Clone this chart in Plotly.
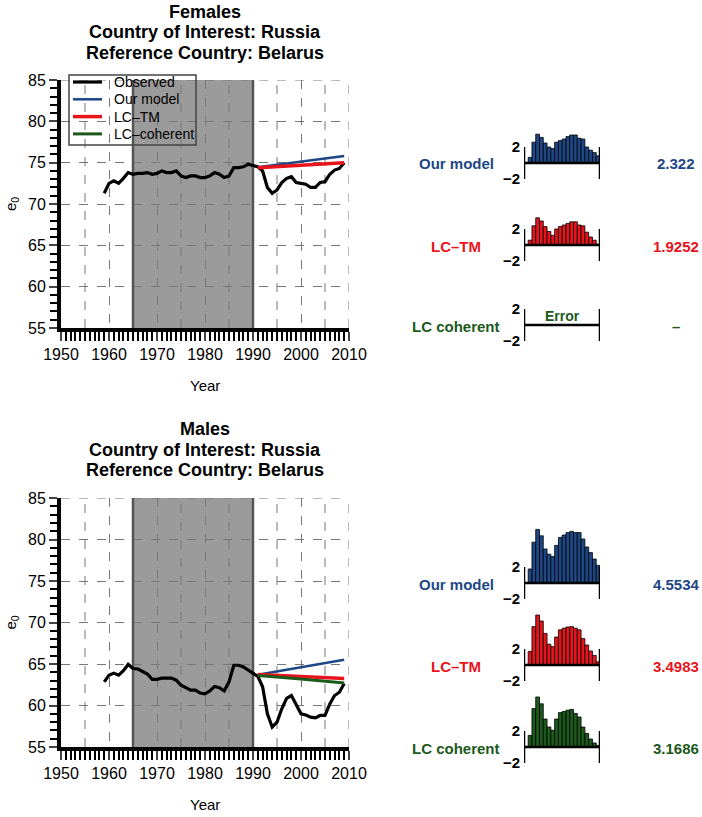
import plotly.graph_objects as go

W, H = 702, 817

years = list(range(1959, 2010))
fem_obs = [71.3, 72.5, 72.8, 72.5, 73.1, 73.8, 73.6, 73.7, 73.7, 73.8,
           73.6, 73.7, 74.0, 73.8, 73.8, 74.0, 73.4, 73.2, 73.4, 73.4,
           73.2, 73.2, 73.4, 73.8, 73.6, 73.2, 73.4, 74.4, 74.4, 74.5,
           74.8, 74.6, 74.5, 74.0, 72.0, 71.3, 71.7, 72.6, 73.1, 73.3,
           72.6, 72.5, 72.4, 72.0, 72.0, 72.6, 72.7, 73.6, 74.1, 74.3, 75.0]
male_obs = [62.85, 63.65, 63.9, 63.65, 64.2, 64.95, 64.45, 64.4, 64.1, 63.8,
            63.15, 63.15, 63.3, 63.3, 63.3, 63.05, 62.45, 62.15, 61.85, 61.85,
            61.5, 61.4, 61.75, 62.3, 62.15, 61.75, 62.85, 64.85, 64.85, 64.65,
            64.25, 63.85, 63.5, 62.25, 59.0, 57.4, 58.0, 59.6, 60.85, 61.2,
            60.0, 59.0, 58.85, 58.6, 58.5, 58.8, 58.8, 60.2, 61.2, 61.6, 62.65]

fc_years = [1991, 2000, 2009]
fem_ours = [74.45, 75.1, 75.8]
fem_lctm = [74.4, 74.7, 75.0]
male_ours = [63.7, 64.6, 65.5]
male_lctm = [63.75, 63.5, 63.25]
male_lccoh = [63.6, 63.2, 62.7]

bar_years = list(range(1991, 2010))
fem_bars_ours = [0.7, 2.6, 3.6, 3.2, 2.5, 2.0, 1.8, 2.6, 2.8, 3.0,
                 3.3, 3.5, 3.5, 3.1, 3.0, 2.0, 1.6, 1.3, 0.9]
fem_bars_lctm = [0.6, 2.4, 3.4, 3.0, 2.3, 1.7, 1.2, 2.0, 2.3, 2.5,
                 2.7, 2.9, 2.9, 2.5, 2.4, 1.6, 1.0, 0.6, 0.1]
male_bars_ours = [1.75, 5.1, 6.7, 5.9, 4.25, 3.6, 3.3, 4.7, 5.7, 6.0,
                  6.3, 6.45, 6.3, 6.3, 5.5, 4.5, 3.8, 3.0, 2.2]
male_bars_lctm = [1.7, 4.8, 6.25, 5.5, 3.95, 2.6, 2.3, 3.5, 4.4, 4.6,
                  4.75, 4.8, 4.6, 4.4, 3.3, 2.5, 1.75, 1.2, 0.4]
male_bars_lccoh = [1.45, 4.8, 6.25, 5.4, 3.5, 2.5, 2.1, 3.5, 4.3, 4.45,
                   4.6, 4.7, 4.2, 3.75, 2.5, 1.7, 1.0, 0.5, 0.2]

fem_scores = ["2.322", "1.9252", "–"]
male_scores = ["4.5534", "3.4983", "3.1686"]
row_names = ["Our model", "LC–TM", "LC coherent"]
legend_names = ["Observed", "Our model", "LC–TM", "LC–coherent"]

BLUE = "#1d4785"
RED = "#e8141c"
GREEN = "#1b5a1b"
FONT = "Liberation Sans, Arial, Helvetica, sans-serif"


def px(x):
    return x / W


def py(y):
    return 1 - y / H


def note(text, x, y, size, color="black", angle=0):
    return dict(text=text, xref="paper", yref="paper", x=px(x), y=py(y),
                xanchor="center", yanchor="middle", showarrow=False,
                textangle=angle, font=dict(size=size, color=color))


def dashed(xa, ya, x0, x1, y0, y1):
    return dict(type="line", xref=xa, yref=ya, x0=x0, x1=x1, y0=y0, y1=y1,
                layer="between", line=dict(color="#777", width=1, dash="dash"))


fig = go.Figure()
layout = dict(width=W, height=H, margin=dict(l=0, r=0, t=0, b=0),
              plot_bgcolor="white", paper_bgcolor="white",
              font=dict(family=FONT, color="black"), showlegend=False,
              shapes=[], annotations=[])

# main panels: (top px, bottom px, title top px, observed, forecasts)
panels = [
    (80, 328, 12, "Females", fem_obs,
     [("Our model", fem_ours, BLUE, 2.5), ("LC–TM", fem_lctm, RED, 3.5)]),
    (498, 747, 429, "Males", male_obs,
     [("Our model", male_ours, BLUE, 2.5), ("LC–TM", male_lctm, RED, 3.5),
      ("LC–coherent", male_lccoh, GREEN, 3)]),
]

for i, (top, bot, ttop, sex, obs, fcs) in enumerate(panels):
    n = i + 1
    xa, ya = ("x", "y") if n == 1 else ("x%d" % n, "y%d" % n)
    xk, yk = ("xaxis", "yaxis") if n == 1 else ("xaxis%d" % n, "yaxis%d" % n)
    layout[xk] = dict(domain=[px(61), px(349)], range=[1950, 2010], anchor=ya,
                      tickvals=list(range(1950, 2011, 10)),
                      ticks="outside", ticklen=9, tickwidth=2.2, showline=True,
                      linewidth=4, linecolor="black", showgrid=True,
                      gridcolor="#777", griddash="dash", gridwidth=1,
                      tickfont=dict(size=16), zeroline=False, automargin=False,
                      minor=dict(dtick=1, ticks="outside", ticklen=9, tickwidth=1.5,
                                 tickcolor="black", showgrid=False))
    layout[yk] = dict(domain=[py(bot), py(top)], range=[55, 85], anchor=xa,
                      tickvals=list(range(55, 86, 5)), ticks="outside", ticklen=8,
                      tickwidth=2.2, showline=True, linewidth=4, linecolor="black",
                      showgrid=True, gridcolor="#777", griddash="dash", gridwidth=1,
                      tickfont=dict(size=16), zeroline=False, automargin=False,
                      minor=dict(dtick=1, ticks="outside", ticklen=7, tickwidth=1.5,
                                 tickcolor="black", showgrid=False))
    layout["shapes"].append(dict(type="rect", xref=xa, yref=ya, x0=1965, x1=1990,
                                 y0=55, y1=85, fillcolor="#9b9b9b",
                                 line=dict(width=0), layer="below"))
    # in-between 5-year grid lines plus the top and right edges
    for xg in (1955, 1975, 1985, 1995, 2005, 2010):
        layout["shapes"].append(dashed(xa, ya, xg, xg, 55, 85))
    layout["shapes"].append(dashed(xa, ya, 1950, 2010, 85, 85))
    for xe in (1965, 1990):
        layout["shapes"].append(dict(type="line", xref=xa, yref=ya, x0=xe, x1=xe,
                                     y0=55, y1=85, layer="between",
                                     line=dict(color="#555", width=2.5)))
    fig.add_trace(go.Scatter(x=years, y=obs, mode="lines", name="Observed",
                             line=dict(color="black", width=3.2), xaxis=xa, yaxis=ya))
    for name, vals, col, lw in fcs:
        fig.add_trace(go.Scatter(x=fc_years, y=vals, mode="lines", name=name,
                                 line=dict(color=col, width=lw), xaxis=xa, yaxis=ya))
    for k, line in enumerate([sex, "Country of Interest: Russia", "Reference Country: Belarus"]):
        layout["annotations"].append(note("<b>%s</b>" % line, 205, ttop + 20.5 * k, 18))
    layout["annotations"].append(note("Year", 205, bot + 57, 15))
    layout["annotations"].append(note("e<sub>0</sub>", 11, (top + bot) / 2, 15, angle=-90))

# legend drawn in the first panel
layout["shapes"].append(dict(type="rect", xref="paper", yref="paper",
                             x0=px(69), x1=px(196), y0=py(145), y1=py(75),
                             line=dict(color="#444", width=1.5)))
for k, (name, col, lw) in enumerate(zip(legend_names, ["black", BLUE, RED, GREEN],
                                        [3.2, 2.5, 3.5, 3])):
    yy = 82 + 17.3 * k
    layout["shapes"].append(dict(type="line", xref="paper", yref="paper",
                                 x0=px(73), x1=px(102), y0=py(yy), y1=py(yy),
                                 line=dict(color=col, width=lw)))
    layout["annotations"].append(dict(text=name, xref="paper", yref="paper",
                                      x=px(112), y=py(yy), xanchor="left",
                                      yanchor="middle", showarrow=False,
                                      font=dict(size=14)))

# mini error bar charts
rows = [
    (163, fem_bars_ours, BLUE, fem_scores[0], row_names[0]),
    (245, fem_bars_lctm, RED, fem_scores[1], row_names[1]),
    (325, None, GREEN, fem_scores[2], row_names[2]),
    (583, male_bars_ours, BLUE, male_scores[0], row_names[0]),
    (665, male_bars_lctm, RED, male_scores[1], row_names[1]),
    (747, male_bars_lccoh, GREEN, male_scores[2], row_names[2]),
]
for j, (base, bars, col, score, label) in enumerate(rows):
    n = j + 3
    xa, ya = "x%d" % n, "y%d" % n
    # 8 px per unit, range -2 .. 8
    layout["xaxis%d" % n] = dict(domain=[px(524), px(600)], range=[1989.4, 2009.5],
                                 anchor=ya, visible=False, automargin=False)
    layout["yaxis%d" % n] = dict(domain=[py(base + 16), py(base - 64)], range=[-2, 8],
                                 anchor=xa, tickvals=[-2, 2],
                                 ticktext=["<b>−2</b>", "<b>2</b>"], ticks="",
                                 showline=False, showgrid=False, zeroline=False,
                                 tickfont=dict(size=15), ticklabelstandoff=3,
                                 automargin=False)
    if bars is not None:
        fig.add_trace(go.Bar(x=bar_years, y=bars, marker=dict(color=col,
                             line=dict(color="black", width=0.8)), width=1,
                             xaxis=xa, yaxis=ya))
    else:
        fig.add_trace(go.Bar(x=[], y=[], xaxis=xa, yaxis=ya))
        layout["annotations"].append(note("<b>Error</b>", 562, base - 9, 14, col))
    for xe in (1989.4, 2009.5):
        layout["shapes"].append(dict(type="line", xref=xa, yref=ya, x0=xe, x1=xe,
                                     y0=-2, y1=2, line=dict(color="black", width=2.5)))
    layout["shapes"].append(dict(type="line", xref=xa, yref=ya, x0=1989.4, x1=2009.5,
                                 y0=0, y1=0, line=dict(color="black", width=2.5)))
    layout["annotations"].append(note("<b>%s</b>" % label, 456, base + 1, 15, col))
    layout["annotations"].append(note("<b>%s</b>" % score, 676, base + 1, 15, col))

layout["barmode"] = "overlay"
fig.update_layout(**layout)
# page margin off so the 702x817 figure fills the window exactly
fig.write_html("out.html", config={"displayModeBar": False},
               post_script="document.body.style.margin='0';")
